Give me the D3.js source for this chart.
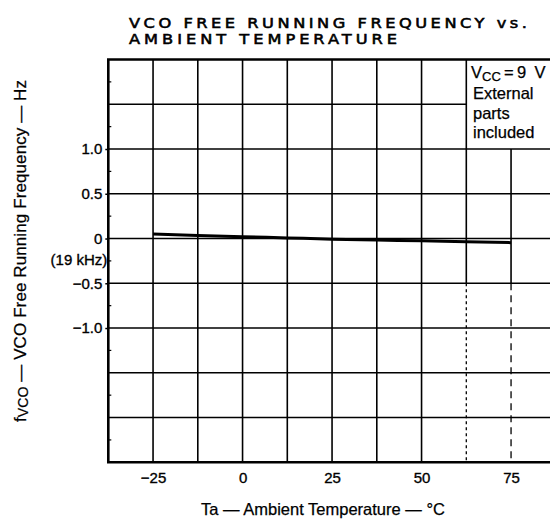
<!DOCTYPE html>
<meta charset="utf-8">
<script src="https://d3js.org/d3.v7.min.js"></script>
<style>
  body { margin: 0; background: #fff; }
  svg { display: block; font-family: "Liberation Sans", Arial, sans-serif; }
  .grid line { stroke: #000; stroke-width: 1.6; }
  .frame { stroke: #000; stroke-width: 2.6; fill: none; }
  .curve { fill: none; stroke: #000; stroke-width: 3; }
  .axis text { font-size: 15px; fill: #000; stroke: #000; stroke-width: 0.35; }
  .axis path { display: none; }
  .axis line { stroke: #000; stroke-width: 1.5; }
  .lab { fill: #000; stroke: #000; stroke-width: 0.25; }
</style>
<body>
<script>

// temperatures (deg C) and frequency deviation (Hz)
var tempC   = [-25, -12.5, 0, 12.5, 25, 37.5, 50, 62.5, 75];
var freqDev = [0.05, 0.035, 0.02, 0.007, -0.007, -0.017, -0.026, -0.037, -0.046];

var xTicks = [-25, 0, 25, 50, 75];
var yTicks = [1.0, 0.5, 0, -0.5, -1.0];
var xGrid = [-25, -12.5, 0, 12.5, 25, 37.5, 50, 62.5, 75];
var yGrid = [1.5, 1.0, 0.5, 0, -0.5, -1.0, -1.5, -2.0];
var legendLines = ["External", "parts", "included"];

var width = 550, height = 519;

var x = d3.scaleLinear().domain([-37.5, 87.5]).range([108.3, 555.8]);
var y = d3.scaleLinear().domain([2.0, -2.5]).range([59.5, 462.3]);

var svg = d3.select("body").append("svg")
    .attr("width", width)
    .attr("height", height);

// title, wide lettering (stretched horizontally)
var sx = 1.2;
var title = svg.append("g")
    .attr("transform", `translate(129,0) scale(${sx},1)`)
    .style("font-family", "'DejaVu Sans', sans-serif")
    .style("font-size", "13.5px")
    .style("fill", "#000")
    .style("stroke", "#000")
    .style("stroke-width", 0.55);
title.append("text")
    .attr("x", 0).attr("y", 28.5)
    .attr("textLength", 398 / sx).attr("lengthAdjust", "spacing")
    .text("VCO FREE RUNNING FREQUENCY vs.");
title.append("text")
    .attr("x", 0).attr("y", 44.4)
    .attr("textLength", 268 / sx).attr("lengthAdjust", "spacing")
    .text("AMBIENT TEMPERATURE");

// grid, the legend box sits in the top right corner (62.5 degC .. right, 1.0 .. top)
var grid = svg.append("g").attr("class", "grid");

grid.selectAll(".hl")
    .data(yGrid)
    .enter().append("line")
    .attr("x1", x(-37.5))
    .attr("x2", d => d > 1.0 ? x(62.5) : width)
    .attr("y1", d => y(d))
    .attr("y2", d => y(d));

// upper solid part of verticals
grid.selectAll(".vu")
    .data(xGrid)
    .enter().append("line")
    .attr("x1", d => x(d)).attr("x2", d => x(d))
    .attr("y1", d => d > 62.5 ? y(1.0) : y(2.0))
    .attr("y2", d => d >= 62.5 ? y(-0.5) : y(-2.5));

// lower part of the right verticals is broken up in the print
grid.selectAll(".vl")
    .data(xGrid.filter(d => d >= 62.5))
    .enter().append("line")
    .attr("x1", d => x(d)).attr("x2", d => x(d))
    .attr("y1", y(-0.5))
    .attr("y2", y(-2.5))
    .style("stroke-width", 1.3)
    .style("stroke-dasharray", d => d > 62.5 ? "7,5" : "3,3");

// frame: top, left, bottom
svg.append("path")
    .attr("class", "frame")
    .attr("d", d3.line()([[width, y(2.0)], [x(-37.5), y(2.0)], [x(-37.5), y(-2.5)], [width, y(-2.5)]]));

// minor ticks on the left edge
svg.append("g")
    .selectAll("line")
    .data([1.75, 1.25, 0.75, 0.25, -0.25, -0.75, -1.25, -1.75, -2.25])
    .enter().append("line")
    .attr("x1", x(-37.5)).attr("x2", x(-37.5) + 3)
    .attr("y1", d => y(d)).attr("y2", d => y(d))
    .style("stroke", "#000").style("stroke-width", 1.2);

// data curve
svg.append("path")
    .datum(d3.zip(tempC, freqDev))
    .attr("class", "curve")
    .attr("d", d3.line().x(d => x(d[0])).y(d => y(d[1])).curve(d3.curveMonotoneX));

// axes
var yAxis = svg.append("g")
    .attr("class", "axis")
    .attr("transform", `translate(${x(-37.5)},0)`)
    .call(d3.axisLeft(y).tickValues(yTicks).tickSize(3).tickPadding(3)
        .tickFormat(d => d === 0 ? "0" : d3.format(".1f")(d)));

yAxis.append("text")
    .attr("x", -1).attr("y", y(0) + 26)
    .style("text-anchor", "end")
    .text("(19 kHz)");

svg.append("g")
    .attr("class", "axis")
    .attr("transform", `translate(0,${y(-2.5)})`)
    .call(d3.axisBottom(x).tickValues(xTicks).tickSize(0).tickPadding(10));

// axis titles
svg.append("text")
    .attr("class", "lab")
    .attr("x", 323).attr("y", 515)
    .style("text-anchor", "middle")
    .style("font-size", "16.5px")
    .text("Ta \u2014 Ambient  Temperature \u2014 \u00b0C");

var ylab = svg.append("text")
    .attr("class", "lab")
    .attr("transform", "translate(26,251) rotate(-90)")
    .style("text-anchor", "middle")
    .style("font-size", "17px")
    .attr("textLength", 342).attr("lengthAdjust", "spacing");
ylab.append("tspan").text("f");
ylab.append("tspan").attr("dy", 2).style("font-size", "14px").text("VCO");
ylab.append("tspan").attr("dy", -2).text(" \u2014 VCO  Free  Running  Frequency \u2014 Hz");

// legend box text
var legend = svg.append("g").attr("class", "lab").style("font-size", "16.5px");
var vcc = legend.append("text").attr("x", 471).attr("y", 78);
vcc.append("tspan").text("V");
vcc.append("tspan").attr("dy", 3).style("font-size", "13px").text("CC");
vcc.append("tspan").attr("dy", -3).text("\u2009=\u20099\u2002V");

legend.selectAll(".ll")
    .data(legendLines)
    .enter().append("text")
    .attr("x", 473)
    .attr("y", (d, i) => 99 + i * 19.5)
    .text(d => d);

</script>
</body>
</html>
